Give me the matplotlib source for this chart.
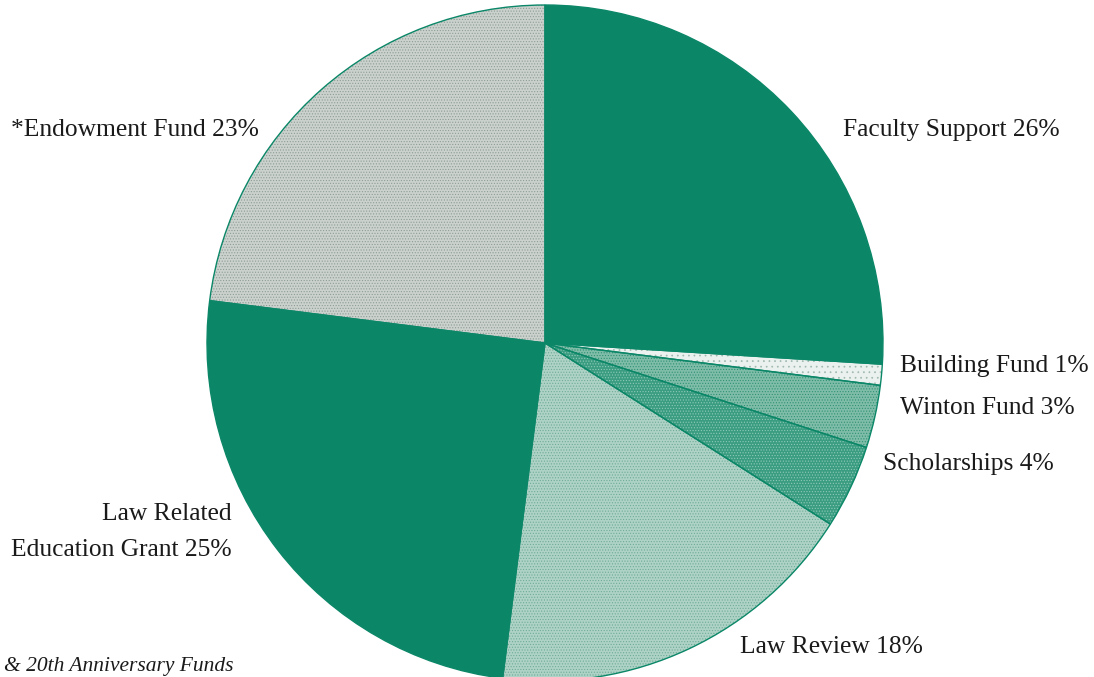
import matplotlib
matplotlib.use("Agg")
import matplotlib.pyplot as plt
from matplotlib.patches import Wedge

categories = ["Faculty Support", "Building Fund", "Winton Fund", "Scholarships",
              "Law Review", "Law Related\nEducation Grant", "*Endowment Fund"]
values = [26, 1, 3, 4, 18, 25, 23]

teal = "#0b8768"
face_colors = ["#0b8768", "#eaf1ee", "#80bda9", "#3a9c80", "#aed3c6", "#0b8768", "#cbd2ce"]
dot_colors = [None, "#9fb8ae", "#2f9275", "#8fcab8", "#6fab98", None, "#8e9c96"]
hatches = [None, "...", "......", "......", "......", None, "......"]

W, H = 1094, 677
fig = plt.figure(figsize=(W / 100, H / 100), dpi=100)
ax = fig.add_axes([0, 0, 1, 1])
cx, cy, r = 545, H - 343, 338
plt.rcParams["hatch.linewidth"] = 0.5

wedges, _ = ax.pie(values, startangle=90, counterclock=False, colors=face_colors,
                   center=(cx, cy), radius=r,
                   wedgeprops=dict(linewidth=0, edgecolor="none"))
for w, hc, hs in zip(wedges, dot_colors, hatches):
    if hs is None:
        continue
    hw = Wedge(w.center, w.r, w.theta1, w.theta2, facecolor="none",
               edgecolor=hc, linewidth=0, hatch=hs)
    ax.add_patch(hw)
for w in wedges:
    ow = Wedge(w.center, w.r, w.theta1, w.theta2, facecolor="none",
               edgecolor=teal, linewidth=1.0)
    ax.add_patch(ow)

ax.set_xlim(0, W)
ax.set_ylim(0, H)
ax.set_aspect("auto")
ax.axis("off")

font = dict(family="Liberation Serif", fontsize=18.4, color="#1a1a1a")
labels = [
    ("Faculty Support 26%", 843, 130, "left"),
    ("Building Fund 1%", 900, 366, "left"),
    ("Winton Fund 3%", 900, 408, "left"),
    ("Scholarships 4%", 883, 464, "left"),
    ("Law Review 18%", 740, 647, "left"),
    ("Law Related", 232, 514, "right"),
    ("Education Grant 25%", 232, 550, "right"),
    ("*Endowment Fund 23%", 259, 130, "right"),
]
for txt, x, y, ha in labels:
    ax.text(x, H - y, txt, ha=ha, va="center", **font)

ax.text(233, H - 667, "& 20th Anniversary Funds", ha="right", va="center",
        family="Liberation Serif", style="italic", fontsize=15.5, color="#1a1a1a")

fig.savefig("out.png", dpi=100)
